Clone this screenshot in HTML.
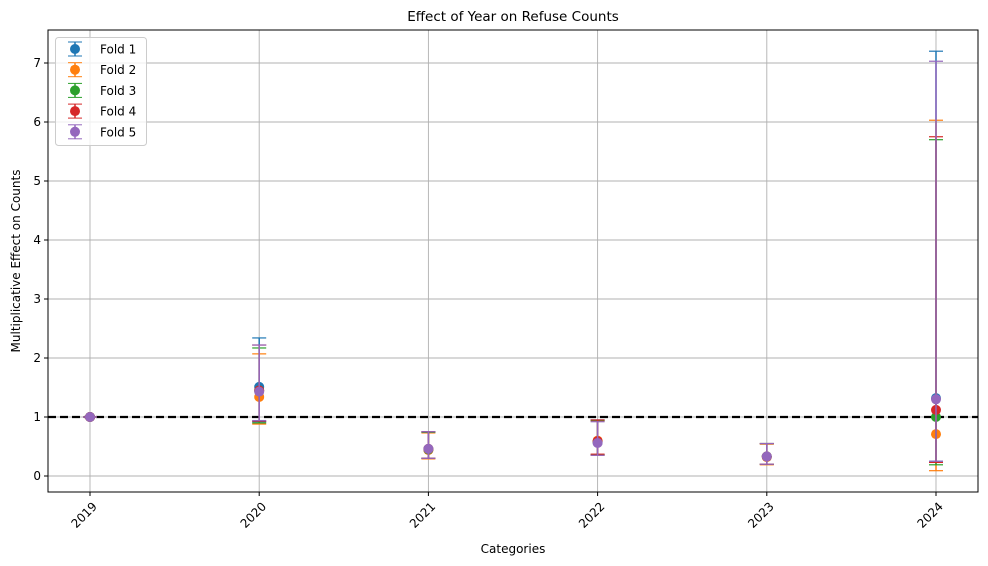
<!DOCTYPE html>
<html><head><meta charset="utf-8">
<style>body{margin:0;background:#fff}svg{display:block;font-family:"DejaVu Sans","Liberation Sans",sans-serif}</style>
</head><body>
<svg id="chart" width="988" height="566"></svg>
<script>
const categories=["2019","2020","2021","2022","2023","2024"];
const foldNames=["Fold 1","Fold 2","Fold 3","Fold 4","Fold 5"];
const colors=["#1f77b4","#ff7f0e","#2ca02c","#d62728","#9467bd"];
const fold1Mean=[1,1.51,0.46,0.57,0.33,1.32];
const fold1Low=[1,0.92,0.30,0.36,0.20,0.25];
const fold1High=[1,2.34,0.75,0.95,0.55,7.2];
const fold2Mean=[1,1.34,0.44,0.60,0.32,0.71];
const fold2Low=[1,0.88,0.29,0.35,0.19,0.09];
const fold2High=[1,2.07,0.73,0.93,0.54,6.03];
const fold3Mean=[1,1.45,0.45,0.58,0.33,1.0];
const fold3Low=[1,0.90,0.30,0.36,0.20,0.19];
const fold3High=[1,2.17,0.74,0.94,0.55,5.7];
const fold4Mean=[1,1.45,0.46,0.59,0.33,1.12];
const fold4Low=[1,0.93,0.30,0.37,0.20,0.23];
const fold4High=[1,2.22,0.75,0.95,0.55,5.75];
const fold5Mean=[1,1.43,0.46,0.56,0.33,1.30];
const fold5Low=[1,0.94,0.30,0.35,0.20,0.25];
const fold5High=[1,2.22,0.75,0.92,0.55,7.03];
const yTicks=[0,1,2,3,4,5,6,7];
const means=[fold1Mean,fold2Mean,fold3Mean,fold4Mean,fold5Mean];
const lows=[fold1Low,fold2Low,fold3Low,fold4Low,fold5Low];
const highs=[fold1High,fold2High,fold3High,fold4High,fold5High];

const L=48,R=978,T=30,B=492;
const x=i=>90+i*169.2;
const y=v=>476-v*59;
const svg=document.getElementById('chart');
const NS="http://www.w3.org/2000/svg";
function mk(tag,attrs,parent){const e=document.createElementNS(NS,tag);for(const k in attrs)e.setAttribute(k,attrs[k]);(parent||svg).appendChild(e);return e;}

const ti=mk('text',{x:513,y:21,'text-anchor':'middle','font-size':13.5});
ti.textContent="Effect of Year on Refuse Counts";


yTicks.forEach(v=>{
  const g=mk('line',{x1:L,x2:R,y1:y(v),y2:y(v),stroke:'#b0b0b0','stroke-width':0.9});
  
  
  mk('line',{x1:L-4,x2:L,y1:y(v),y2:y(v),stroke:'#000'});
  const t=mk('text',{x:L-7,y:y(v)+4,'text-anchor':'end','font-size':12});
  t.textContent=v;
  
  
});
categories.forEach((c,i)=>{
  const g=mk('line',{x1:x(i),x2:x(i),y1:T,y2:B,stroke:'#b0b0b0','stroke-width':0.9});
  
  
  mk('line',{x1:x(i),x2:x(i),y1:B,y2:B+4,stroke:'#000'});
  const t=mk('text',{x:0,y:0,'text-anchor':'middle','font-size':12,transform:`translate(${x(i)-3},${B+26}) rotate(-45)`});
  t.textContent=c;
  
  
});
const ref=mk('line',{x1:L,x2:R,y1:y(1),y2:y(1),stroke:'#000','stroke-width':2.2,'stroke-dasharray':'8,4'});


means.forEach((m,f)=>{
  const g=mk('g',{});
  
  
  m.forEach((v,i)=>{
    const xx=x(i);
    mk('line',{x1:xx,x2:xx,y1:y(lows[f][i]),y2:y(highs[f][i]),stroke:colors[f],'stroke-width':1.5},g);
    mk('line',{x1:xx-7,x2:xx+7,y1:y(lows[f][i]),y2:y(lows[f][i]),stroke:colors[f],'stroke-width':1.2},g);
    mk('line',{x1:xx-7,x2:xx+7,y1:y(highs[f][i]),y2:y(highs[f][i]),stroke:colors[f],'stroke-width':1.2},g);
    const p=mk('circle',{cx:xx,cy:y(v),r:5,fill:colors[f]},g);
    
    
  });
});
mk('rect',{x:L,y:T,width:R-L,height:B-T,fill:'none',stroke:'#000','stroke-width':1});
const xl=mk('text',{x:513,y:553,'text-anchor':'middle','font-size':12});
xl.textContent="Categories";


const yl=mk('text',{x:0,y:0,'text-anchor':'middle','font-size':12,transform:'translate(20,261) rotate(-90)'});
yl.textContent="Multiplicative Effect on Counts";


const lg=mk('g',{});


mk('rect',{x:55.5,y:37.5,width:91,height:108,rx:3,fill:'#fff','fill-opacity':0.8,stroke:'#ccc'},lg);
foldNames.forEach((n,f)=>{
  const cy=49+f*20.7;
  const e=mk('g',{},lg);
  
  
  mk('line',{x1:75,x2:75,y1:cy-7,y2:cy+7,stroke:colors[f],'stroke-width':1.5},e);
  mk('line',{x1:68,x2:82,y1:cy-7,y2:cy-7,stroke:colors[f]},e);
  mk('line',{x1:68,x2:82,y1:cy+7,y2:cy+7,stroke:colors[f]},e);
  mk('circle',{cx:75,cy:cy,r:5,fill:colors[f]},e);
  mk('text',{x:100,y:cy+4.5,'font-size':12},e).textContent=n;
});
</script>
</body></html>
